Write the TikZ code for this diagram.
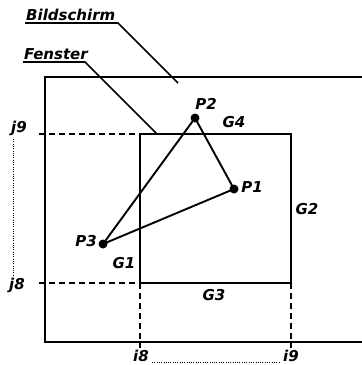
\documentclass[tikz,border=0pt]{standalone}
\usepackage{fontspec}
\setmainfont{DejaVu Sans}
\begin{document}
\begin{tikzpicture}[x=1pt,y=-1pt,
  lbl/.style={font=\bfseries\itshape\fontsize{15}{15}\selectfont, inner sep=0pt},
  mainline/.style={line width=2.2pt},
  dashline/.style={line width=1.8pt, dash pattern=on 6pt off 4pt},
  dotline/.style={line width=1pt, dash pattern=on 1pt off 1.3pt},
  ptdot/.style={circle, fill=black, inner sep=0pt, minimum size=9pt}]
\useasboundingbox (0,0) rectangle (362,365);
% screen
\coordinate (s1) at (362,77);
\coordinate (s2) at (45,77);
\coordinate (s3) at (45,342);
\coordinate (s4) at (362,342);
\draw[mainline] (s1) -- (s2) -- (s3) -- (s4);
% window
\coordinate (w1) at (140,134);
\coordinate (w2) at (291,134);
\coordinate (w3) at (291,283);
\coordinate (w4) at (140,283);
\draw[line width=1.9pt] (w1) -- (w2) -- (w3) -- (w4) -- cycle;
% dashed guides
\coordinate (dj9) at (39,134);
\coordinate (dj8) at (39,283);
\coordinate (di8) at (140,348);
\coordinate (di9) at (291,348);
\draw[dashline] (dj9) -- (w1);
\draw[dashline] (dj8) -- (w4);
\draw[dashline] (w4) -- (di8);
\draw[dashline] (w3) -- (di9);
% labels j, i
\node[lbl] (j9) at (19,128) {j9};
\node[lbl] (j8) at (17,285) {j8};
\node[lbl] (i8) at (141,356) {i8};
\node[lbl] (i9) at (291,356) {i9};
\coordinate (vd1) at (13,139);
\coordinate (vd2) at (13,275);
\coordinate (hd1) at (152,362);
\coordinate (hd2) at (280,362);
\draw[dotline] (vd1) -- (vd2);
\draw[dotline] (hd1) -- (hd2);
% points
\node[ptdot] (P1) at (234,189) {};
\node[ptdot] (P2) at (195,118) {};
\node[ptdot] (P3) at (103,244) {};
\draw[line width=1.9pt] (P1.center) -- (P2.center) -- (P3.center) -- cycle;
\node[lbl] (lP1) at (252,187) {P1};
\node[lbl] (lP2) at (206,104) {P2};
\node[lbl] (lP3) at (86,241) {P3};
\node[lbl] (G1) at (124,263) {G1};
\node[lbl] (G2) at (307,209) {G2};
\node[lbl] (G3) at (214,295) {G3};
\node[lbl] (G4) at (234,122) {G4};
% callouts
\node[lbl, anchor=base west] (bs) at (26,20) {Bildschirm};
\node[lbl, anchor=base west] (fe) at (24,59) {Fenster};
\coordinate (bsstart) at (25,23);
\coordinate (bsend) at (118,23);
\coordinate (bstip) at (178,83);
\coordinate (festart) at (23,62);
\coordinate (feend) at (85,62);
\coordinate (fetip) at (157,134);
\draw[line width=1.7pt] (bsstart) -- (bsend) -- (bstip);
\draw[line width=1.7pt] (festart) -- (feend) -- (fetip);
\end{tikzpicture}
\end{document}
